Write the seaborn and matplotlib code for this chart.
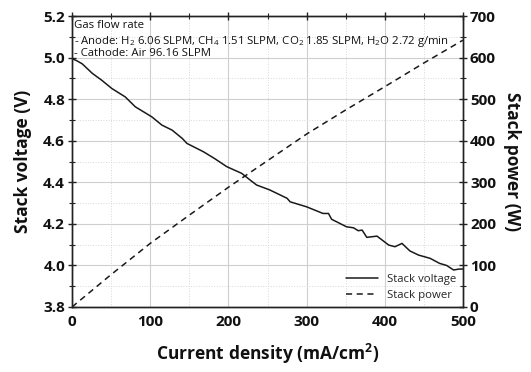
import matplotlib
matplotlib.use("Agg")
import matplotlib.pyplot as plt
import seaborn as sns
import pandas as pd
from matplotlib.ticker import MultipleLocator, FormatStrFormatter
from matplotlib.lines import Line2D

current_density = [0, 6, 13, 26, 38, 51, 68, 81, 102, 115, 128, 141, 147, 168, 182, 198, 217, 225,
                   236, 253, 275, 279, 300, 321, 328, 332, 351, 360, 366, 371, 377, 390, 405, 413,
                   422, 432, 443, 458, 470, 479, 488, 494, 500]
stack_voltage = [4.995, 4.985, 4.97, 4.924, 4.891, 4.851, 4.811, 4.763, 4.715, 4.675, 4.651, 4.611,
                 4.587, 4.547, 4.515, 4.475, 4.443, 4.419, 4.387, 4.363, 4.323, 4.306, 4.282, 4.25,
                 4.25, 4.222, 4.186, 4.181, 4.167, 4.17, 4.135, 4.141, 4.098, 4.09, 4.106, 4.07,
                 4.05, 4.034, 4.01, 4.00, 3.978, 3.982, 3.983]

power_density = [0, 50, 100, 150, 200, 250, 300, 350, 400, 450, 500]
stack_power = [0, 78, 153, 221, 288, 352, 416, 474, 530, 587, 642]

note_lines = [
    "Gas flow rate",
    "- Anode: H$_2$ 6.06 SLPM, CH$_4$ 1.51 SLPM, CO$_2$ 1.85 SLPM, H$_2$O 2.72 g/min",
    "- Cathode: Air 96.16 SLPM",
]

sns.set_style("white")
plt.rcParams['font.family'] = ['Open Sans', 'DejaVu Sans']
plt.rcParams['mathtext.fontset'] = 'custom'
plt.rcParams['mathtext.rm'] = 'Open Sans'
plt.rcParams['mathtext.bf'] = 'Open Sans:bold'

fig = plt.figure(figsize=(5.31, 3.72), dpi=100)
ax = fig.add_axes([72/531, 1-307/372, (463-72)/531, (307-16)/372])
ax2 = ax.twinx()

dfv = pd.DataFrame({"x": current_density, "v": stack_voltage})
dfp = pd.DataFrame({"x": power_density, "p": stack_power})
sns.lineplot(data=dfv, x="x", y="v", ax=ax, color="#1a1a1a", lw=1.1)
sns.lineplot(data=dfp, x="x", y="p", ax=ax2, color="#1a1a1a", lw=1.1, linestyle=(0, (4, 3)))

ax.set_xlim(0, 500)
ax.set_ylim(3.8, 5.2)
ax2.set_ylim(0, 700)
ax.xaxis.set_major_locator(MultipleLocator(100))
ax.xaxis.set_minor_locator(MultipleLocator(50))
ax.yaxis.set_major_locator(MultipleLocator(0.2))
ax.yaxis.set_minor_locator(MultipleLocator(0.1))
ax2.yaxis.set_major_locator(MultipleLocator(100))
ax2.yaxis.set_minor_locator(MultipleLocator(50))
ax.yaxis.set_major_formatter(FormatStrFormatter('%.1f'))

ax.grid(which='major', color='#cfcfcf', lw=0.8, ls='-')
ax.grid(which='minor', color='#d8d8d8', lw=0.7, ls=':')
ax.set_axisbelow(True)

for a in (ax, ax2):
    for s in a.spines.values():
        s.set_color('#222222')
        s.set_linewidth(1.0)
ax.tick_params(axis='both', which='major', direction='inout', length=6, width=1, labelsize=11,
               color='#222222', labelcolor='#111111', pad=2)
ax.tick_params(axis='x', which='major', pad=3)
ax.tick_params(axis='both', which='minor', direction='inout', length=4, width=0.8, color='#222222')
ax.tick_params(axis='x', which='both', top=True)
ax2.tick_params(axis='y', which='major', direction='inout', length=6, width=1, labelsize=11,
                color='#222222', labelcolor='#111111', pad=2)
ax2.tick_params(axis='y', which='minor', direction='inout', length=4, width=0.8, color='#222222')
for lab in ax.get_xticklabels() + ax.get_yticklabels() + ax2.get_yticklabels():
    lab.set_fontweight('bold')

ax.set_xlabel("Current density (mA/cm$\\mathbf{^2}$)", fontsize=12.5, fontweight='bold', labelpad=9,
              color='#111111')
ax.set_ylabel("Stack voltage (V)", fontsize=12.5, fontweight='bold', labelpad=8, color='#111111')
ax2.set_ylabel("Stack power (W)", fontsize=12.5, fontweight='bold', rotation=270, labelpad=18,
               color='#111111')

for i, t in enumerate(note_lines):
    ax.text(0.005, 0.985 - i*0.048, t, transform=ax.transAxes, fontsize=8.2, va='top', ha='left',
            color='#111111')

handles = [Line2D([], [], color='#1a1a1a', lw=1.1),
           Line2D([], [], color='#1a1a1a', lw=1.1, linestyle=(0, (4, 3)))]
ax2.legend(handles, ["Stack voltage", "Stack power"], loc='lower right', frameon=False,
           fontsize=8.2, handlelength=2.8, borderaxespad=0.0, labelspacing=0.45,
           bbox_to_anchor=(0.995, 0.005))

fig.savefig("out.png", dpi=100)
